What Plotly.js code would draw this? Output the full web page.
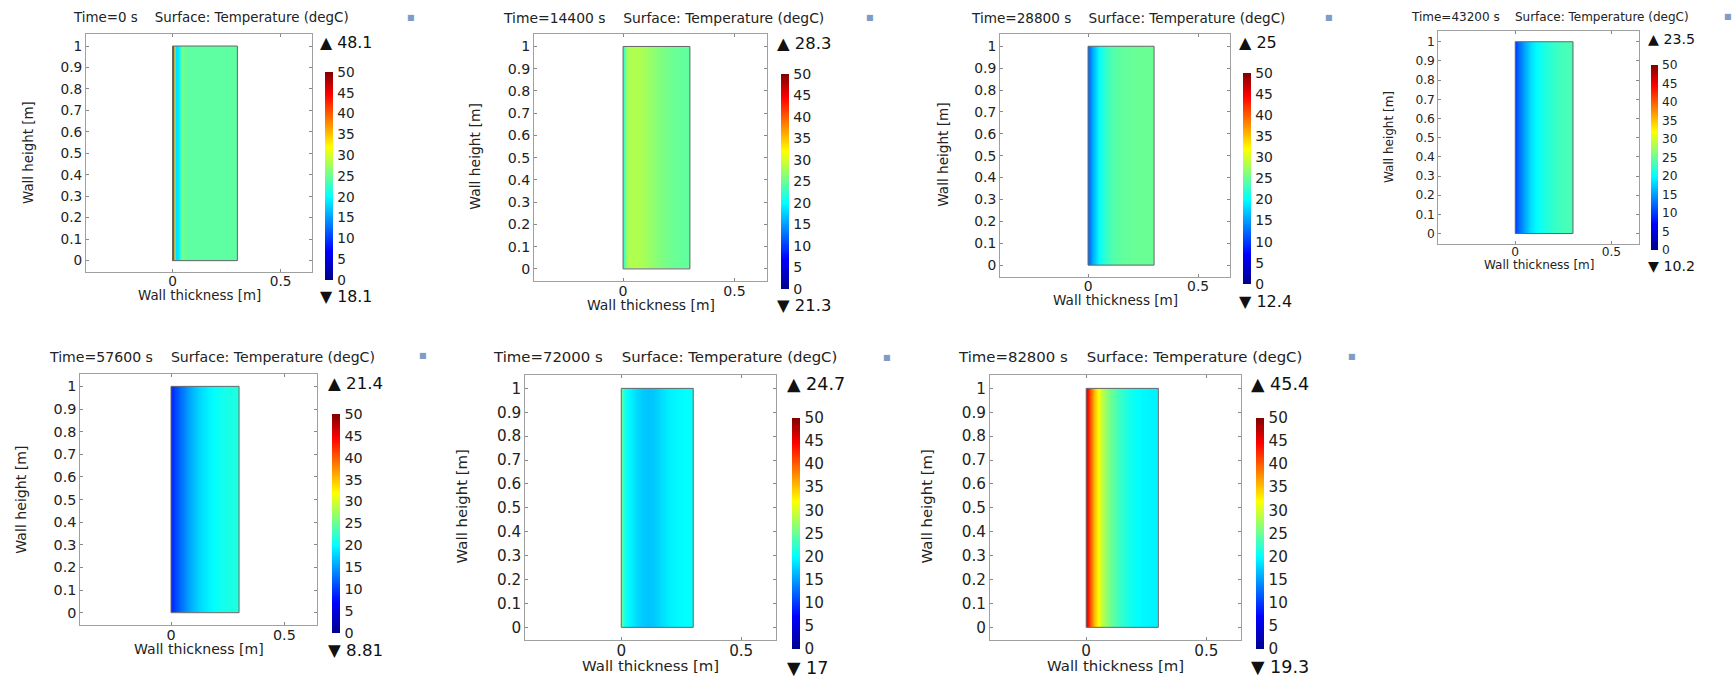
<!DOCTYPE html>
<html>
<head>
<meta charset="utf-8">
<script src="https://cdn.plot.ly/plotly-3.0.1.min.js"></script>
<style>html,body{margin:0;padding:0;background:#fff;}#chart{width:1733px;height:680px;}</style>
</head>
<body>
<div id="chart"></div>
<script>
// ---------------- DATA ----------------
const times = [0, 14400, 28800, 43200, 57600, 72000, 82800];
const maxVals = ['48.1', '28.3', '25', '23.5', '21.4', '24.7', '45.4'];
const minVals = ['18.1', '21.3', '12.4', '10.2', '8.81', '17', '19.3'];

// wall geometry: cell edges across thickness [m] and along height [m]
const xEdges = [0, 0.004, 0.008, 0.012, 0.018, 0.025, 0.035, 0.045, 0.06, 0.08, 0.1, 0.125, 0.15, 0.175, 0.2, 0.225, 0.25, 0.275, 0.3];
const yEdges = [0, 0.5, 1];

// temperature profiles (degC) across the wall thickness, one value per cell
const T0     = [47.0, 30.0, 19.0, 18.2, 18.3, 19.5, 26.0, 24.8, 24.4, 24.4, 24.4, 24.4, 24.4, 24.4, 24.4, 24.4, 24.4, 24.4];
const T14400 = [22.0, 24.8, 26.3, 27.3, 28.0, 28.2, 28.3, 28.3, 28.2, 27.8, 27.3, 26.7, 26.1, 25.6, 25.2, 24.9, 24.7, 24.6];
const T28800 = [12.6, 13.2, 14.0, 15.0, 16.2, 17.5, 18.8, 20.2, 21.8, 23.0, 23.9, 24.4, 24.7, 24.8, 24.9, 25.0, 25.0, 25.0];
const T43200 = [10.4, 10.9, 11.4, 12.0, 12.8, 13.8, 14.9, 16.1, 17.6, 18.9, 20.0, 20.9, 21.6, 22.2, 22.7, 23.1, 23.3, 23.5];
const T57600 = [9.0, 9.4, 9.8, 10.3, 10.9, 11.6, 12.4, 13.4, 14.8, 16.1, 17.4, 18.5, 19.4, 20.1, 20.6, 21.0, 21.2, 21.4];
const T72000 = [24.4, 23.0, 21.8, 20.8, 20.2, 19.8, 19.4, 18.8, 18.0, 17.3, 17.0, 17.3, 18.2, 19.0, 19.5, 19.8, 20.0, 20.1];
const T82800 = [45.0, 44.0, 42.5, 41.0, 39.0, 36.5, 34.0, 31.5, 28.5, 26.2, 24.3, 22.8, 21.6, 20.7, 20.1, 19.7, 19.5, 19.4];
const profiles = [T0, T14400, T28800, T43200, T57600, T72000, T82800];

// tick labels
const xTickVals = [0, 0.5];
const xTickText = ['0', '0.5'];
const yTickVals = [0, 0.1, 0.2, 0.3, 0.4, 0.5, 0.6, 0.7, 0.8, 0.9, 1];
const yTickText = ['0', '0.1', '0.2', '0.3', '0.4', '0.5', '0.6', '0.7', '0.8', '0.9', '1'];
const cbTickVals = [0, 5, 10, 15, 20, 25, 30, 35, 40, 45, 50];
const tempMin = 0, tempMax = 50;

// ---------------- LAYOUT GEOMETRY (pixels) ----------------
const W = 1733, H = 680;
const frames = [[86,312,34,272],[534,766.7,34,280.7],[1000,1230,34,276.7],[1438.3,1639.3,31,243.7],
                [80.3,317.3,373.7,624.7],[525.3,776,375,640],[990,1241.3,375,640]];
const cbs = [[325,72,280,8],[780.7,74,288.7,8],[1243,72.7,284,8],[1651,65,250,7.3],
             [332,414,632.7,8],[791.7,417.7,649,8.3],[1256,417.7,649,8.3]];
const titlePos = [[211,17.7],[663,18],[1127.5,18],[1550,16.7],[212,356.7],[664.7,357.3],[1129.5,357]];
const maxPos = [[318,42.7],[775,43],[1236.7,42.7],[1646,39.3],[326,383.3],[785,384.3],[1249.3,384]];
const minY = [296,305,301.7,265.7,650,667.7,667];
const yTitlePos = [[29,153],[475,156.7],[942.7,155],[1388.3,136.7],[20.7,500],[461.7,506.7],[926.7,506.7]];
const xTitlePos = [[199,295],[650.5,305],[1115,300.3],[1538.8,265],[199,649.3],[650.7,666],[1115.7,666]];
const iconPos = [[411,17],[870,17],[1329,17],[1727.7,16],[422.7,355.7],[886.7,357],[1351.7,356]];
const fs = [13.4, 13.9, 13.6, 12.0, 14.1, 14.9, 14.9];

const FONT = 'DejaVu Sans, Verdana, sans-serif';
const colorscale = [[0,'rgb(0,0,140)'],[0.14,'rgb(0,0,255)'],[0.4,'rgb(0,255,255)'],
                    [0.64,'rgb(255,255,0)'],[0.89,'rgb(255,0,0)'],[1,'rgb(128,0,0)']];

const px = v => v / W;
const py = v => 1 - v / H;

const data = [];
const layout = {
  width: W, height: H, autosize: false,
  margin: {l:0, r:0, t:0, b:0},
  paper_bgcolor: '#fff', plot_bgcolor: '#fff',
  showlegend: false,
  font: {family: FONT, color: '#222'},
  annotations: [], shapes: []
};

times.forEach((t, i) => {
  const n = i + 1;
  const xa = 'xaxis' + (n === 1 ? '' : n);
  const ya = 'yaxis' + (n === 1 ? '' : n);
  const xr = 'x' + (n === 1 ? '' : n);
  const yr = 'y' + (n === 1 ? '' : n);
  const f = frames[i], cb = cbs[i], s = fs[i];
  const z = yEdges.slice(1).map(() => profiles[i].slice());

  data.push({
    type: 'heatmap', x: xEdges, y: yEdges, z: z,
    xaxis: xr, yaxis: yr,
    zmin: tempMin, zmax: tempMax, zsmooth: 'best',
    colorscale: colorscale, showscale: true, hoverinfo: 'skip',
    colorbar: {
      x: px(cb[0]), xanchor: 'left', xref: 'paper',
      y: py((cb[1] + cb[2]) / 2), yanchor: 'middle', yref: 'paper',
      len: cb[2] - cb[1], lenmode: 'pixels',
      thickness: cb[3], thicknessmode: 'pixels',
      xpad: 0, ypad: 0, outlinewidth: 0, borderwidth: 0,
      tickvals: cbTickVals, ticktext: cbTickVals.map(String),
      ticks: 'outside', ticklen: 2, tickcolor: '#fff',
      tickfont: {family: FONT, size: s * 1.02, color: '#222'}
    }
  });

  const axCommon = {
    showline: true, mirror: 'ticks', linecolor: '#a0a0a0', linewidth: 1,
    ticks: 'inside', ticklen: 3, tickcolor: '#888', tickwidth: 1,
    showgrid: false, zeroline: false, fixedrange: true,
    tickfont: {family: FONT, size: s * 1.02, color: '#222'}
  };
  layout[xa] = Object.assign({}, axCommon, {
    domain: [px(f[0]), px(f[1])], range: [-0.4, 0.645], anchor: yr,
    tickmode: 'array', tickvals: xTickVals, ticktext: xTickText,
    ticklabelstandoff: -3
  });
  layout[ya] = Object.assign({}, axCommon, {
    domain: [py(f[3]), py(f[2])], range: [-0.053, 1.056], anchor: xr,
    tickmode: 'array', tickvals: yTickVals, ticktext: yTickText
  });

  // wall outline
  layout.shapes.push({
    type: 'rect', xref: xr, yref: yr,
    x0: xEdges[0], x1: xEdges[xEdges.length - 1], y0: yEdges[0], y1: yEdges[yEdges.length - 1],
    line: {color: '#666', width: 1}, fillcolor: 'rgba(0,0,0,0)'
  });

  const A = layout.annotations;
  A.push({xref:'paper', yref:'paper', x: px(titlePos[i][0]), y: py(titlePos[i][1]),
          xanchor:'center', yanchor:'middle', showarrow:false,
          text: 'Time=' + t + ' s\u00a0\u00a0\u00a0 Surface: Temperature (degC)',
          font:{family:FONT, size:s, color:'#222'}});
  A.push({xref:'paper', yref:'paper', x: px(maxPos[i][0]), y: py(maxPos[i][1]),
          xanchor:'left', yanchor:'middle', showarrow:false,
          text: '\u25B2 ' + maxVals[i], font:{family:FONT, size:s*1.18, color:'#111'}});
  A.push({xref:'paper', yref:'paper', x: px(maxPos[i][0]), y: py(minY[i]),
          xanchor:'left', yanchor:'middle', showarrow:false,
          text: '\u25BC ' + minVals[i], font:{family:FONT, size:s*1.18, color:'#111'}});
  A.push({xref:'paper', yref:'paper', x: px(yTitlePos[i][0]), y: py(yTitlePos[i][1]),
          xanchor:'center', yanchor:'middle', showarrow:false, textangle:-90,
          text: 'Wall height [m]', font:{family:FONT, size:s, color:'#222'}});
  A.push({xref:'paper', yref:'paper', x: px(xTitlePos[i][0]), y: py(xTitlePos[i][1]),
          xanchor:'center', yanchor:'middle', showarrow:false,
          text: 'Wall thickness [m]', font:{family:FONT, size:s, color:'#222'}});
  A.push({xref:'paper', yref:'paper', x: px(iconPos[i][0]), y: py(iconPos[i][1]),
          xanchor:'center', yanchor:'middle', showarrow:false,
          text: '\u25A0', font:{family:FONT, size:8, color:'#7f9cc8'}});
});

Plotly.newPlot('chart', data, layout, {displayModeBar: false, staticPlot: true});
</script>
</body>
</html>
